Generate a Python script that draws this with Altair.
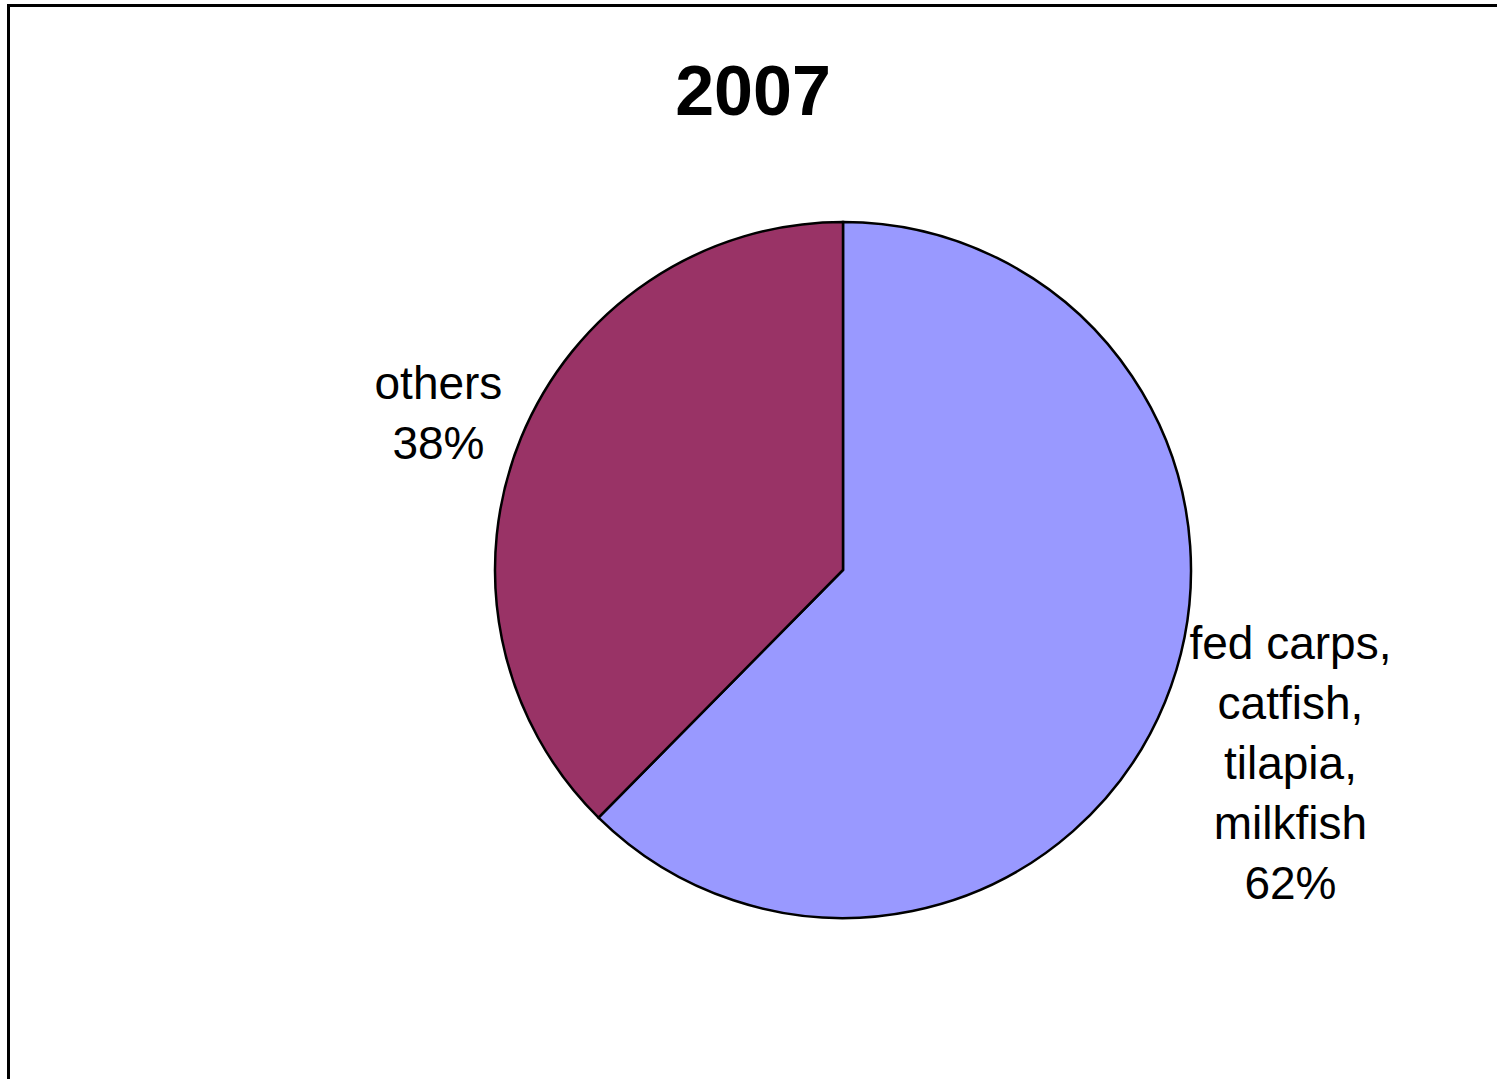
import altair as alt
import pandas as pd

categories = ["fed carps, catfish, tilapia, milkfish", "others"]
shares = [62.4, 37.6]
labels = ["fed carps,\ncatfish,\ntilapia,\nmilkfish\n62%", "others\n38%"]
colors = ["#9999FF", "#993366"]
order_idx = [0, 1]
title_text = "2007"

df = pd.DataFrame({"category": categories, "share": shares, "label": labels, "idx": order_idx})

W, H = 1308, 1018
PAD_L, PAD_T = 189, 61
FONT = "Liberation Sans"

base = alt.Chart(df).encode(
    theta=alt.Theta("share:Q", stack=True),
    order=alt.Order("idx:Q"),
)

pie = base.mark_arc(outerRadius=348, stroke="black", strokeWidth=2.5).encode(
    color=alt.Color("category:N", scale=alt.Scale(domain=categories, range=colors), legend=None),
)

def label_layer(cat, radius, dx, dy):
    return base.mark_text(
        radius=radius, dx=dx, dy=dy, lineBreak="\n", lineHeight=60,
        font=FONT, fontSize=46, color="black", align="center", baseline="middle",
    ).encode(
        text=alt.condition(f"datum.category == '{cat}'", "label:N", alt.value("")),
    )

lab_fed = label_layer(categories[0], 488, -4, -110)
lab_oth = label_layer(categories[1], 433, -4, -21)

title = alt.Chart(pd.DataFrame({"t": [title_text]})).mark_text(
    font=FONT, fontSize=70, fontWeight="bold", color="black", align="center", baseline="alphabetic",
).encode(text="t:N", x=alt.value(753 - PAD_L), y=alt.value(115 - PAD_T))

frame_left = alt.Chart(pd.DataFrame({"a": [0]})).mark_rule(color="black", strokeWidth=3).encode(
    x=alt.value(8.5 - PAD_L), y=alt.value(4 - PAD_T), y2=alt.value(H + 10)
)
frame_top = alt.Chart(pd.DataFrame({"a": [0]})).mark_rule(color="black", strokeWidth=3).encode(
    y=alt.value(5.5 - PAD_T), x=alt.value(7 - PAD_L), x2=alt.value(W + 10)
)

chart = alt.layer(pie, lab_fed, lab_oth, title, frame_left, frame_top).properties(
    width=W, height=H,
    autosize=alt.AutoSizeParams(type="none"),
    padding={"left": PAD_L, "top": PAD_T, "right": 0, "bottom": 0},
    background="white",
).configure_view(stroke=None)

chart.save("out.html", embed_options={"renderer": "svg", "actions": False})
